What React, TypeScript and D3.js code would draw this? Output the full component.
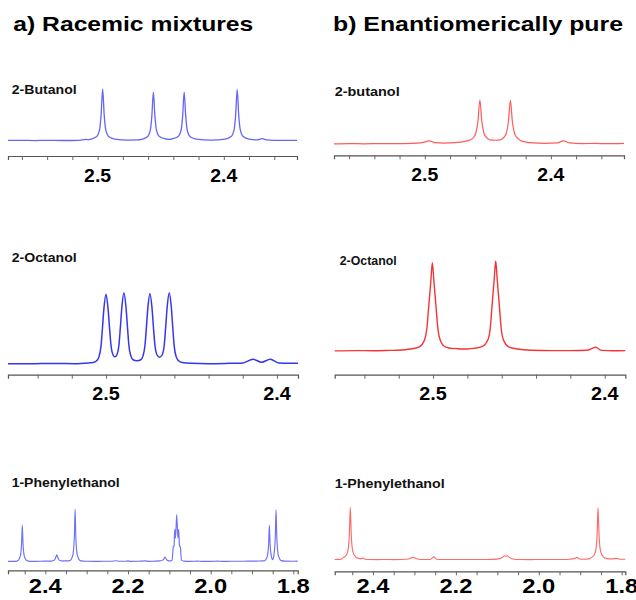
import { useEffect, useRef } from 'react';
import * as d3 from 'd3';

type Pt = [number, number]; // [ppm, relative intensity %]

// ---- spectra (ppm, % of tallest peak) ----
const butanolRacemic: Pt[] = [
  [2.571, 0.5], [2.56, 0.8], [2.55, 0.3], [2.54, 0.6], [2.528, 0.4], [2.515, 0.8], [2.509, 2.5], [2.507, 2.0],
  [2.5055, 3], [2.5008, 8], [2.4984, 22], [2.4972, 51], [2.496, 100], [2.4948, 51], [2.4936, 22], [2.4912, 8], [2.4865, 3],
  [2.476, 1.2], [2.468, 1.5],
  [2.4653, 2.5], [2.4606, 7.5], [2.4582, 21], [2.457, 48], [2.4558, 94], [2.4546, 48], [2.4534, 21], [2.451, 8], [2.4463, 3.5],
  [2.4436, 2.5],
  [2.4409, 3.5], [2.4362, 8], [2.4338, 21], [2.4326, 48], [2.4314, 94], [2.4302, 48], [2.429, 21], [2.4266, 7.5], [2.4219, 3],
  [2.41, 1.2],
  [2.3989, 3], [2.3942, 8], [2.3918, 22], [2.3906, 50], [2.3894, 99], [2.3882, 50], [2.387, 22], [2.3846, 8], [2.3799, 3],
  [2.374, 1.5], [2.3695, 4], [2.366, 1.5], [2.36, 0.8], [2.35, 0.5], [2.342, 0.8],
];

const butanolPure: Pt[] = [
  [2.572, 0.5], [2.56, 1], [2.548, 0.5], [2.535, 1], [2.522, 0.8], [2.51, 1.2], [2.502, 3], [2.4966, 7], [2.492, 3], [2.485, 2], [2.477, 3],
  [2.4682, 6], [2.4642, 9], [2.4611, 16], [2.4595, 25], [2.4579, 50], [2.4563, 100], [2.4547, 50], [2.4531, 25], [2.4515, 16], [2.4484, 9.5],
  [2.4442, 8.5],
  [2.44, 9.5], [2.4369, 16], [2.4353, 25], [2.4337, 50], [2.4321, 99], [2.4305, 50], [2.4289, 25], [2.4273, 16], [2.4242, 8], [2.4202, 5], [2.414, 2.5],
  [2.405, 1.5], [2.395, 2.5], [2.3897, 7], [2.385, 2.5], [2.375, 1], [2.365, 1.2], [2.355, 0.8], [2.342, 1.5],
];

const octanolRacemic: Pt[] = [
  [2.5573, 0.5], [2.545, 0.3], [2.53, 0.8], [2.518, 0.5], [2.51, 1.5],
  [2.5076, 2], [2.5053, 5], [2.5041, 10], [2.5029, 25], [2.5021, 49], [2.5012, 78], [2.5, 98], [2.4988, 78], [2.4979, 50], [2.4971, 27], [2.4959, 13],
  [2.49475, 10],
  [2.4936, 13], [2.4924, 27], [2.4916, 51], [2.4907, 80], [2.4895, 100], [2.4883, 80], [2.4874, 51], [2.4866, 26], [2.4854, 11], [2.4842, 6],
  [2.4819, 4.5],
  [2.4796, 6], [2.4784, 11], [2.4772, 26], [2.4764, 50], [2.4755, 79], [2.4743, 99], [2.4731, 79], [2.4722, 50], [2.4714, 27], [2.4702, 13],
  [2.46865, 9.5],
  [2.4671, 13], [2.4659, 27], [2.4651, 51], [2.4642, 80], [2.463, 100], [2.4618, 80], [2.4609, 50], [2.4601, 25], [2.4589, 10], [2.4577, 5], [2.4554, 2],
  [2.45, 1], [2.44, 0.5], [2.43, 0.8], [2.42, 1.5], [2.414, 6.5], [2.409, 2.5], [2.4039, 6.5], [2.399, 1.5], [2.393, 1], [2.3877, 1],
];

const octanolPure: Pt[] = [
  [2.5573, 0.5], [2.545, 0.8], [2.535, 0.6], [2.525, 1],
  [2.5208, 1.2], [2.5132, 2.5], [2.508, 5], [2.5051, 12], [2.5036, 25], [2.50255, 49], [2.50127, 78], [2.5004, 98], [2.49953, 78], [2.49825, 49], [2.4972, 25], [2.49574, 12], [2.49283, 5],
  [2.4876, 3], [2.487, 3.2], [2.4839, 2.5], [2.48, 2.6],
  [2.4763, 3.2], [2.4712, 5.5], [2.4682, 12], [2.4667, 25], [2.46565, 50], [2.46437, 80], [2.4635, 100], [2.46263, 80], [2.46135, 50], [2.4603, 25], [2.45884, 12], [2.45593, 5], [2.4507, 2.5], [2.4431, 1.2],
  [2.43, 0.8], [2.42, 0.8], [2.41, 1.2], [2.4053, 4.5], [2.402, 1], [2.395, 0.6], [2.388, 0.8],
];

const phenylRacemic: Pt[] = [
  [2.4903, 0.5], [2.48, 0.5], [2.47, 1],
  [2.4678, 1.5], [2.463, 5.6], [2.4605, 10.5], [2.4574, 35], [2.4557, 70], [2.454, 35], [2.4509, 10.5], [2.4484, 5.6], [2.4436, 1.5],
  [2.43, 0.5], [2.415, 0.8], [2.4, 1], [2.385, 1],
  [2.3845, 1.2], [2.3784, 3], [2.3754, 7], [2.3724, 13], [2.3694, 7], [2.3664, 3], [2.3603, 1.5],
  [2.35, 1.5],
  [2.3401, 2], [2.3353, 8], [2.3328, 15], [2.3297, 50], [2.328, 100], [2.3263, 50], [2.3232, 15], [2.3207, 8], [2.3159, 2],
  [2.3, 0.8], [2.28, 0.5], [2.26, 0.8], [2.24, 0.8], [2.228, 1.8], [2.222, 0.8], [2.205, 0.8], [2.2, 1.5], [2.195, 0.6], [2.175, 0.8], [2.158, 1.5], [2.15, 0.6], [2.135, 1],
  [2.1225, 1.5], [2.116, 3], [2.1134, 5], [2.1104, 9], [2.1074, 5], [2.1045, 2.5], [2.1, 1.5],
  [2.0934, 3], [2.0903, 28], [2.0886, 30], [2.0869, 62], [2.085, 45], [2.0821, 90], [2.0792, 45], [2.0772, 62], [2.0755, 30], [2.0734, 28], [2.0705, 3],
  [2.065, 1], [2.05, 0.6], [2.032, 1.2], [2.02, 0.5], [2.0, 0.5], [1.984, 1.2], [1.97, 0.5], [1.95, 0.8], [1.93, 0.8], [1.91, 1], [1.89, 1], [1.875, 1.5],
  [1.8701, 1.5], [1.8653, 5.6], [1.8628, 10.5], [1.8597, 35], [1.858, 70], [1.8563, 35], [1.8532, 10.5],
  [1.85, 4],
  [1.8491, 5], [1.8466, 15], [1.8435, 50], [1.8418, 99], [1.8401, 50], [1.837, 15], [1.8345, 8], [1.8297, 2],
  [1.82, 1], [1.8, 0.8], [1.7894, 1],
];

const phenylPure: Pt[] = [
  [2.4924, 1], [2.485, 1.2], [2.476, 1.5],
  [2.4741, 3], [2.4637, 10], [2.4596, 22], [2.457, 50], [2.4548, 100], [2.4526, 50], [2.45, 22], [2.4459, 10], [2.4355, 3],
  [2.428, 2.5], [2.424, 4], [2.419, 1.5],
  [2.41, 1], [2.39, 0.8], [2.37, 1], [2.35, 0.8], [2.33, 1], [2.315, 2], [2.3035, 5], [2.293, 2], [2.28, 1], [2.262, 1], [2.2528, 6], [2.247, 1.5],
  [2.235, 1], [2.21, 1], [2.19, 1], [2.17, 1], [2.15, 1], [2.13, 1], [2.11, 1.2], [2.095, 2.5], [2.086, 6], [2.082, 8], [2.079, 7], [2.076, 8], [2.07, 4.5], [2.06, 1.5],
  [2.045, 1], [2.02, 0.8], [2.0, 1], [1.98, 1], [1.96, 1], [1.94, 1], [1.925, 1.5], [1.913, 3], [1.9077, 5], [1.902, 2], [1.893, 1.5], [1.88, 2],
  [1.8763, 3], [1.8659, 10], [1.8618, 22], [1.8592, 50], [1.857, 99], [1.8548, 50], [1.8522, 22], [1.8481, 10], [1.8377, 3],
  [1.825, 2], [1.812, 3], [1.805, 1.5], [1.7913, 1.5],
];

// ---- axis ticks ----
const butanolTicks = [2.56, 2.54, 2.52, 2.5, 2.48, 2.46, 2.44, 2.42, 2.4, 2.38, 2.36];
const octanolTicks = [2.54, 2.52, 2.5, 2.48, 2.46, 2.44, 2.42, 2.4];
const narrowLabels = [2.5, 2.4];
const phenylTicks = [2.45, 2.4, 2.35, 2.3, 2.25, 2.2, 2.15, 2.1, 2.05, 2.0, 1.95, 1.9, 1.85, 1.8];
const phenylLabels = [2.4, 2.2, 2.0, 1.8];

const titles = ['a) Racemic mixtures', 'b) Enantiomerically pure'];

// layout for each panel
const panels = [
  { label: '2-Butanol', data: butanolRacemic, ticks: butanolTicks, labels: narrowLabels, dom: [2.571, 2.342], x0: 8, x1: 297, axisY: 156, base: 140.7, top: 89, lx: 11.7, ly: 94, lw: 65, color: '#6565f6', sw: 1.3, fs: 18, tl: 27, lo: 25.5 },
  { label: '2-butanol', data: butanolPure, ticks: butanolTicks, labels: narrowLabels, dom: [2.572, 2.342], x0: 334, x1: 624, axisY: 155.3, base: 144, top: 100, lx: 334.7, ly: 96, lw: 65, color: '#ff5b5b', sw: 1.2, fs: 18, tl: 27, lo: 25.5 },
  { label: '2-Octanol', data: octanolRacemic, ticks: octanolTicks, labels: narrowLabels, dom: [2.5573, 2.3877], x0: 8, x1: 298, axisY: 374.7, base: 364, top: 292.7, lx: 11.7, ly: 261.5, lw: 65, color: '#3636ee', sw: 1.5, fs: 18, tl: 27.5, lo: 25 },
  { label: '2-Octanol', data: octanolPure, ticks: octanolTicks, labels: narrowLabels, dom: [2.5573, 2.388], x0: 334.7, x1: 625.3, axisY: 374.7, base: 351.3, top: 261, lx: 339.7, ly: 265, lw: 57, color: '#f43535', sw: 1.4, fs: 18, tl: 27.5, lo: 25 },
  { label: '1-Phenylethanol', data: phenylRacemic, ticks: phenylTicks, labels: phenylLabels, dom: [2.4903, 1.7894], x0: 8, x1: 297.7, axisY: 570.3, base: 561.7, top: 509.3, lx: 11.7, ly: 487, lw: 108, color: '#7070f8', sw: 1.15, fs: 20, tl: 33, lo: 23 },
  { label: '1-Phenylethanol', data: phenylPure, ticks: phenylTicks, labels: phenylLabels, dom: [2.4924, 1.7913], x0: 334.7, x1: 625.3, axisY: 571.3, base: 560, top: 507.3, lx: 334.7, ly: 488, lw: 110, color: '#ff6b6b', sw: 1.15, fs: 20, tl: 33, lo: 22 },
];

const FONT = "'Liberation Sans', Arial, sans-serif";

export default function App() {
  const ref = useRef<SVGSVGElement>(null);

  useEffect(() => {
    const svg = d3.select(ref.current);
    svg.selectAll('*').remove();

    // titles
    svg.append('text').attr('x', 13.3).attr('y', 31).text(titles[0])
      .attr('font-family', FONT).attr('font-weight', 'bold').attr('font-size', 20.5)
      .attr('textLength', 240).attr('lengthAdjust', 'spacingAndGlyphs');
    svg.append('text').attr('x', 333).attr('y', 31).text(titles[1])
      .attr('font-family', FONT).attr('font-weight', 'bold').attr('font-size', 20.5)
      .attr('textLength', 290).attr('lengthAdjust', 'spacingAndGlyphs');

    panels.forEach((p) => {
      const x = d3.scaleLinear().domain(p.dom).range([p.x0, p.x1]);
      const y = d3.scaleLinear().domain([0, 100]).range([p.base, p.top]);
      const g = svg.append('g');

      g.append('text').attr('x', p.lx).attr('y', p.ly).text(p.label)
        .attr('font-family', FONT).attr('font-weight', 'bold').attr('font-size', 13)
        .attr('textLength', p.lw).attr('lengthAdjust', 'spacingAndGlyphs').attr('fill', '#111');

      const line = d3.line<Pt>().x((d) => x(d[0])).y((d) => y(d[1])).curve(d3.curveMonotoneX);
      g.append('path').datum(p.data).attr('d', line).attr('fill', 'none')
        .attr('stroke', p.color).attr('stroke-width', p.sw).attr('stroke-linejoin', 'round');

      const axis = d3.axisBottom(x).tickValues(p.ticks).tickSize(4).tickSizeOuter(4).tickFormat(() => '');
      const ax = g.append('g').attr('transform', `translate(0,${p.axisY})`).call(axis);
      ax.select('.domain').attr('stroke', '#555').attr('stroke-width', 1.2);
      ax.selectAll('.tick line').attr('stroke', '#666').attr('stroke-width', 1);

      g.selectAll('text.major').data(p.labels).enter().append('text')
        .attr('class', 'major')
        .attr('x', (d) => x(d)).attr('y', p.axisY + p.lo)
        .attr('text-anchor', 'middle')
        .attr('font-family', FONT).attr('font-weight', 'bold').attr('font-size', p.fs)
        .attr('textLength', p.tl).attr('lengthAdjust', 'spacingAndGlyphs')
        .text((d) => d.toFixed(1));
    });
  }, []);

  return (
    <svg
      ref={ref}
      width={636}
      height={600}
      style={{ position: 'absolute', left: 0, top: 0, background: '#fff' }}
    />
  );
}
